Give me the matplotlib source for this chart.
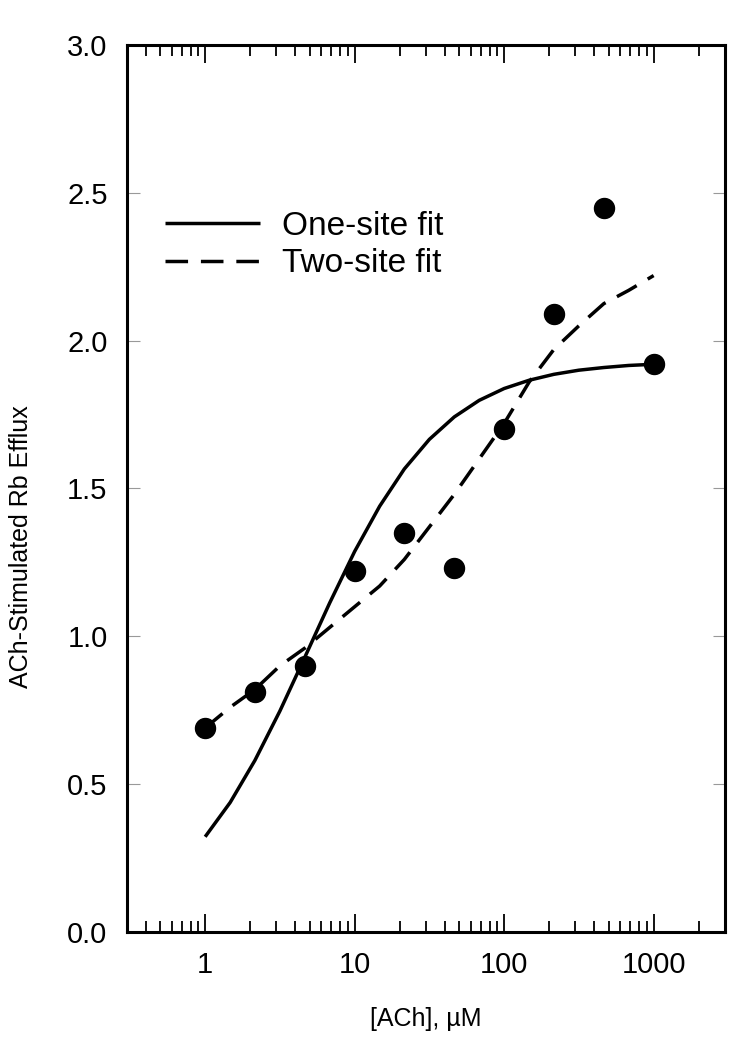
import matplotlib
matplotlib.use('Agg')
import matplotlib.pyplot as plt
from matplotlib.ticker import LogLocator, FixedLocator, FormatStrFormatter, NullFormatter

plt.rcParams['font.family'] = ['Liberation Sans', 'DejaVu Sans']

# measured points
conc = [1, 2.15, 4.64, 10, 21.5, 46.4, 100, 215, 464, 1000]
efflux = [0.69, 0.81, 0.90, 1.22, 1.35, 1.23, 1.70, 2.09, 2.45, 1.92]

# fitted curves
fit_conc = [1, 1.47, 2.15, 3.16, 4.64, 6.81, 10, 14.7, 21.5, 31.6, 46.4, 68.1,
            100, 147, 215, 316, 464, 681, 1000]
one_site = [0.322, 0.438, 0.580, 0.747, 0.929, 1.113, 1.287, 1.440, 1.566, 1.666,
            1.742, 1.798, 1.838, 1.866, 1.886, 1.900, 1.909, 1.916, 1.920]
two_site = [0.69, 0.76, 0.82, 0.90, 0.96, 1.03, 1.10, 1.17, 1.26, 1.37,
            1.48, 1.60, 1.72, 1.86, 1.97, 2.05, 2.125, 2.17, 2.22]

y_ticks = [0.0, 0.5, 1.0, 1.5, 2.0, 2.5, 3.0]
x_labels = ['1', '10', '100', '1000']


def plot_efflux():
    fig = plt.figure(figsize=(7.47, 10.5), dpi=100)
    ax = fig.add_axes([0.170, 0.1124, 0.8005, 0.8448])

    ax.plot(fit_conc, one_site, color='black', lw=2.5, solid_capstyle='butt',
            label='One-site fit')
    ax.plot(fit_conc, two_site, color='black', lw=2.5, dashes=(6.5, 3.7),
            dash_capstyle='butt', label='Two-site fit')
    ax.plot(conc, efflux, 'o', color='black', ms=14.4, zorder=5)

    ax.set_xscale('log')
    ax.set_xlim(0.3, 3000)
    ax.set_ylim(0, 3.0)

    ax.xaxis.set_major_locator(FixedLocator([1, 10, 100, 1000]))
    ax.set_xticklabels(x_labels)
    ax.xaxis.set_minor_locator(LogLocator(base=10, subs=range(2, 10), numticks=20))
    ax.xaxis.set_minor_formatter(NullFormatter())
    ax.set_yticks(y_ticks)
    ax.yaxis.set_major_formatter(FormatStrFormatter('%.1f'))

    ax.tick_params(axis='x', which='major', direction='in', top=True, length=13,
                   width=1.3, labelsize=21, pad=14)
    ax.tick_params(axis='x', which='minor', direction='in', top=True, length=8,
                   width=1.3)
    ax.tick_params(axis='y', which='major', direction='in', right=True, length=9,
                   width=0.8, color='#999999', labelsize=21, pad=14)

    for sp in ax.spines.values():
        sp.set_linewidth(2.2)

    ax.set_xlabel('[ACh], µM', fontsize=18, labelpad=20)
    ax.set_ylabel('ACh-Stimulated Rb Efflux', fontsize=18)
    ax.yaxis.set_label_coords(-0.157, 0.434)

    ax.legend(loc='upper left', bbox_to_anchor=(0.0635, 0.813), frameon=False,
              fontsize=24, handlelength=2.85, handletextpad=0.66, labelspacing=0.2,
              borderpad=0, borderaxespad=0)

    fig.savefig('out.png', dpi=100)


if __name__ == '__main__':
    plot_efflux()
